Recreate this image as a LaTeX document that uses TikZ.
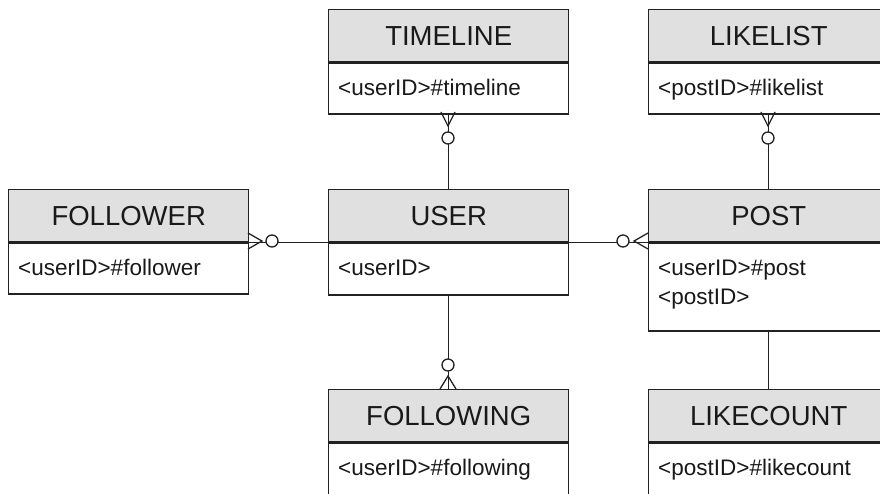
\documentclass[tikz,border=0pt]{standalone}
\usepackage{fontspec}
\setmainfont{Liberation Sans}
\definecolor{hdrgray}{HTML}{E0E0E0}
\definecolor{edge}{HTML}{222222}
\begin{document}
\begin{tikzpicture}[x=1pt,y=-1pt,
  hdr/.style={draw=edge, line width=1.4pt, fill=hdrgray, minimum width=240pt, minimum height=52pt, inner sep=0pt, anchor=north west, font=\fontsize{27.5}{31}\selectfont, text=black!90},
  bodybox/.style={draw=edge, line width=1.4pt, fill=white, minimum width=240pt, inner sep=0pt, anchor=north west},
  attr/.style={anchor=base west, inner sep=0pt, font=\fontsize{22.5}{26}\selectfont, text=black!90},
  link/.style={draw=edge, line width=1.3pt},
  ring/.style={draw=edge, line width=1.3pt, fill=white}
]
\useasboundingbox (0,0) rectangle (880,493);
\clip (0,0) rectangle (880,493);

% TIMELINE
\node[hdr] (tl) at (328,9) {TIMELINE};
\node[bodybox, minimum height=51pt] (tlb) at (tl.south west) {};
\node[attr] (tla) at (338,95) {<userID>\#timeline};

% LIKELIST
\node[hdr] (ll) at (648,9) {LIKELIST};
\node[bodybox, minimum height=51pt] (llb) at (ll.south west) {};
\node[attr] (lla) at (658,95) {<postID>\#likelist};

% FOLLOWER
\node[hdr] (fr) at (8,189) {FOLLOWER};
\node[bodybox, minimum height=51pt] (frb) at (fr.south west) {};
\node[attr] (fra) at (18,275) {<userID>\#follower};

% USER
\node[hdr] (us) at (328,189) {USER};
\node[bodybox, minimum height=52pt] (usb) at (us.south west) {};
\node[attr] (usa) at (338,275) {<userID>};

% POST
\node[hdr] (po) at (648,189) {POST};
\node[bodybox, minimum height=88pt] (pob) at (po.south west) {};
\node[attr] (poa) at (658,275) {<userID>\#post};
\node[attr] (pob2) at (658,304) {<postID>};

% FOLLOWING
\node[hdr] (fg) at (328,389) {FOLLOWING};
\node[bodybox, minimum height=54pt] (fgb) at (fg.south west) {};
\node[attr] (fga) at (338,475) {<userID>\#following};

% LIKECOUNT
\node[hdr] (lc) at (648,389) {LIKECOUNT};
\node[bodybox, minimum height=54pt] (lcb) at (lc.south west) {};
\node[attr] (lca) at (658,475) {<postID>\#likecount};

% connectors
\draw[link] (fr.south east) -- (us.south west);
\draw[link] (us.south east) -- (po.south west);
\draw[link] (tlb.south) -- (us.north);
\draw[link] (llb.south) -- (po.north);
\draw[link] (usb.south) -- (fg.north);
\draw[link] (pob.south) -- (lc.north);

% crow's feet
\draw[link] (248,233) -- (262,241) -- (248,249);
\draw[ring] (272,241) circle[radius=6pt];

\draw[link] (648,233) -- (634,241) -- (648,249);
\draw[ring] (623,241) circle[radius=6pt];

\draw[link] (441,112) -- (448,126) -- (455,112);
\draw[ring] (448,138) circle[radius=6pt];

\draw[link] (761,112) -- (768,126) -- (775,112);
\draw[ring] (768,138) circle[radius=6pt];

\draw[link] (440,389) -- (448,376) -- (456,389);
\draw[ring] (448,365) circle[radius=6pt];
\end{tikzpicture}
\end{document}
